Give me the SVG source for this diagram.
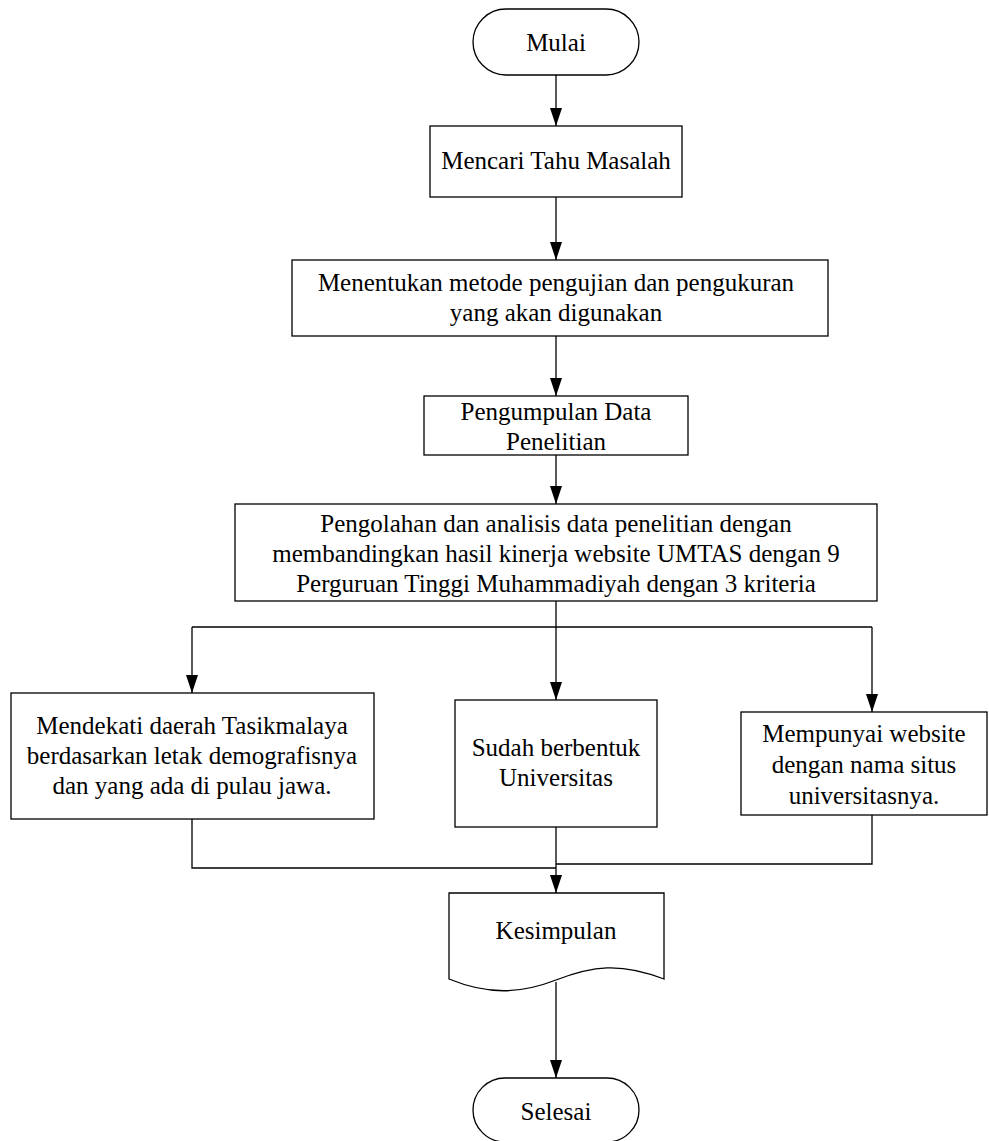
<svg xmlns="http://www.w3.org/2000/svg" width="989" height="1141" viewBox="0 0 989 1141">
<style>
.s{fill:#fff;stroke:#000;stroke-width:1.3}
.t{font-family:"Liberation Serif","Times New Roman",serif;font-size:25px;fill:#000;text-anchor:middle}
.c{fill:none;stroke:#000;stroke-width:1.3}
</style>
<defs>
<marker id="a" markerUnits="userSpaceOnUse" markerWidth="18" markerHeight="12" refX="18" refY="6" orient="auto" viewBox="0 0 18 12">
<path d="M0,0 L18,6 L0,12 Z" fill="#000"/>
</marker>
</defs>
<rect width="989" height="1141" fill="#fff"/>
<g id="connectors">
<path class="c" d="M556,75 V126" marker-end="url(#a)"/>
<path class="c" d="M556,197 V260" marker-end="url(#a)"/>
<path class="c" d="M556,336 V396" marker-end="url(#a)"/>
<path class="c" d="M556,455 V504" marker-end="url(#a)"/>
<path class="c" d="M556,601 V700" marker-end="url(#a)"/>
<path class="c" d="M192,627 H872"/>
<path class="c" d="M192,627 V693" marker-end="url(#a)"/>
<path class="c" d="M872,627 V712" marker-end="url(#a)"/>
<path class="c" d="M192,819 V868 H556"/>
<path class="c" d="M872,815 V864 H556"/>
<path class="c" d="M556,827 V893" marker-end="url(#a)"/>
<path class="c" d="M556,982 V1078" marker-end="url(#a)"/>
</g>
<g id="mulai">
<rect class="s" x="473" y="9" width="166" height="66" rx="33"/>
<text class="t" x="556" y="51">Mulai</text>
</g>
<g id="mencari">
<rect class="s" x="430" y="126" width="252" height="71"/>
<text class="t" x="556" y="169">Mencari Tahu Masalah</text>
</g>
<g id="menentukan">
<rect class="s" x="292" y="260" width="536" height="76"/>
<text class="t" x="556" y="291">Menentukan metode pengujian dan pengukuran</text>
<text class="t" x="556" y="321">yang akan digunakan</text>
</g>
<g id="pengumpulan">
<rect class="s" x="424" y="396" width="264" height="59"/>
<text class="t" x="556" y="420">Pengumpulan Data</text>
<text class="t" x="556" y="450">Penelitian</text>
</g>
<g id="pengolahan">
<rect class="s" x="235" y="504" width="642" height="97"/>
<text class="t" x="556" y="532">Pengolahan dan analisis data penelitian dengan</text>
<text class="t" x="556" y="562">membandingkan hasil kinerja website UMTAS dengan 9</text>
<text class="t" x="556" y="592">Perguruan Tinggi Muhammadiyah dengan 3 kriteria</text>
</g>
<g id="kriteria1">
<rect class="s" x="11" y="693" width="363" height="126"/>
<text class="t" x="192" y="734">Mendekati daerah Tasikmalaya</text>
<text class="t" x="192" y="764">berdasarkan letak demografisnya</text>
<text class="t" x="192" y="794">dan yang ada di pulau jawa.</text>
</g>
<g id="kriteria2">
<rect class="s" x="455" y="700" width="202" height="127"/>
<text class="t" x="556" y="756">Sudah berbentuk</text>
<text class="t" x="556" y="786">Universitas</text>
</g>
<g id="kriteria3">
<rect class="s" x="741" y="712" width="246" height="103"/>
<text class="t" x="864" y="742">Mempunyai website</text>
<text class="t" x="864" y="773">dengan nama situs</text>
<text class="t" x="864" y="804">universitasnya.</text>
</g>
<g id="kesimpulan">
<path class="s" d="M449,893 H664 V979 C620,962 592,966 556,980 C520,994 488,995 449,979 Z"/>
<text class="t" x="556" y="939">Kesimpulan</text>
</g>
<g id="selesai">
<rect class="s" x="473" y="1078" width="166" height="64" rx="32"/>
<text class="t" x="556" y="1120">Selesai</text>
</g>
</svg>
